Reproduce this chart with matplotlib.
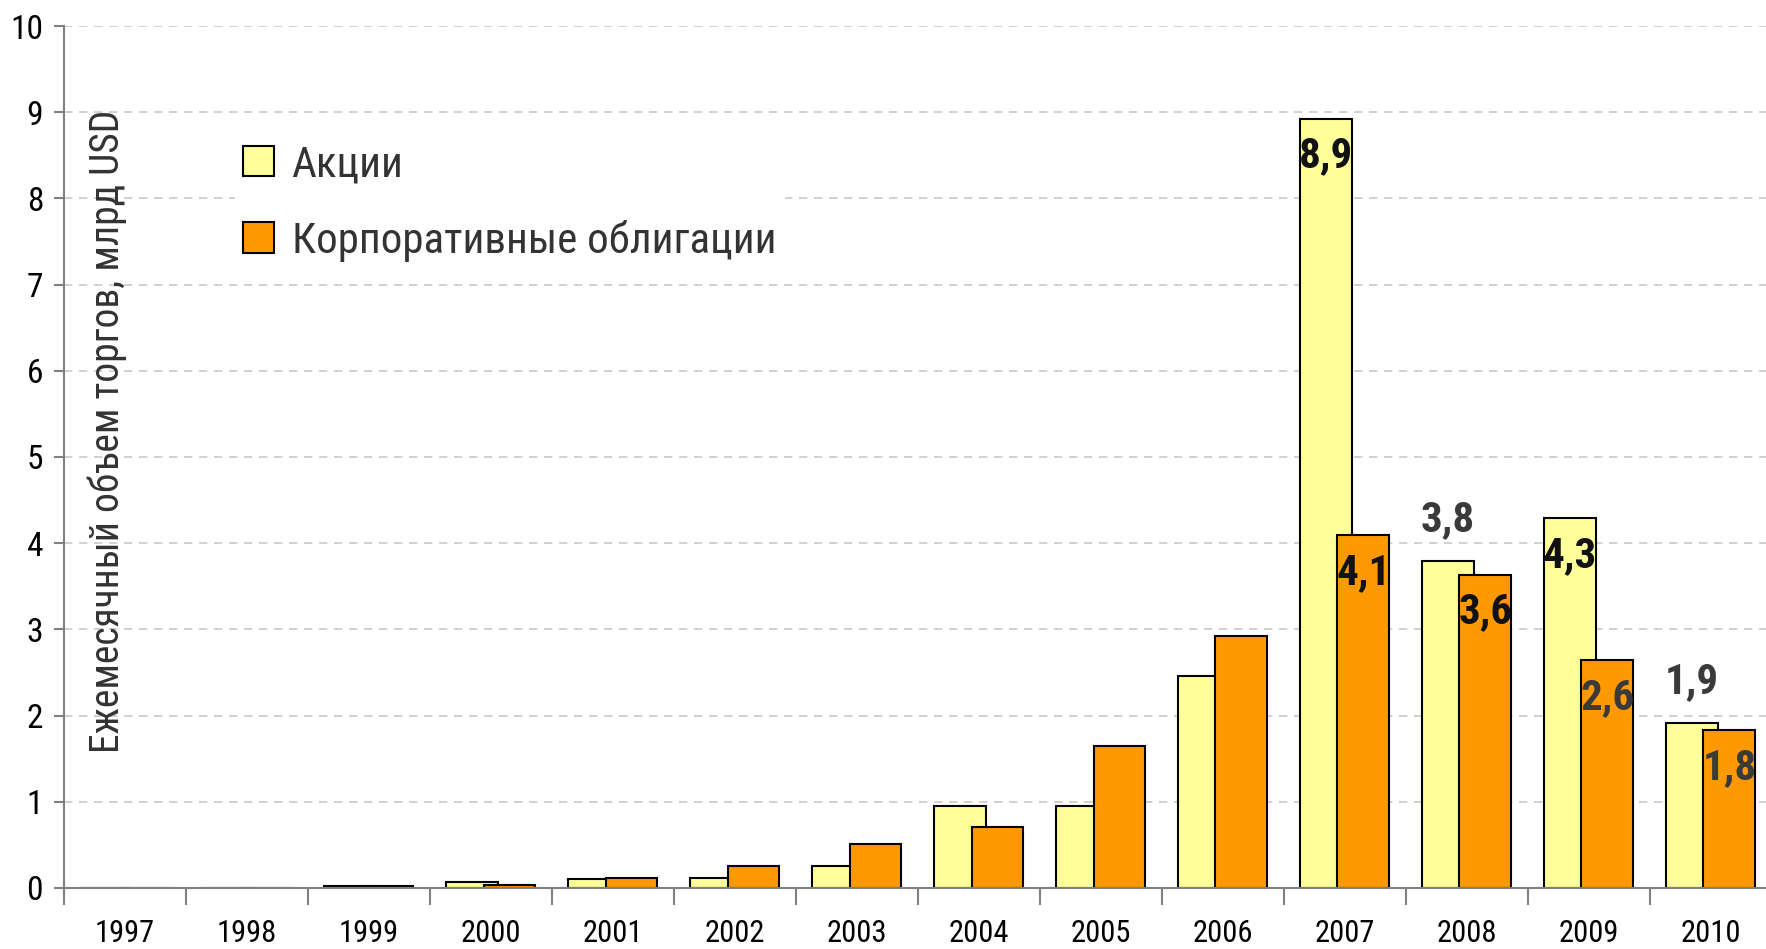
import numpy as np
import matplotlib
matplotlib.use('Agg')
import matplotlib.pyplot as plt
from matplotlib import font_manager
from matplotlib.ticker import FixedLocator

years = ['1997', '1998', '1999', '2000', '2001', '2002', '2003',
         '2004', '2005', '2006', '2007', '2008', '2009', '2010']
stocks = [0.0, 0.0, 0.02, 0.07, 0.10, 0.12, 0.25,
          0.95, 0.95, 2.46, 8.92, 3.79, 4.29, 1.91]
bonds = [0.0, 0.0, 0.02, 0.03, 0.12, 0.25, 0.51,
         0.71, 1.65, 2.92, 4.09, 3.63, 2.64, 1.83]
series_names = ['Акции', 'Корпоративные облигации']
ylabel = 'Ежемесячный объем торгов, млрд USD'

# value labels: (year index, series, text, placed inside bar?)
labels = [(10, 0, '8,9', True), (10, 1, '4,1', True),
          (11, 0, '3,8', False), (11, 1, '3,6', True),
          (12, 0, '4,3', True), (12, 1, '2,6', True),
          (13, 0, '1,9', False), (13, 1, '1,8', True)]
label_colors = ['#111111', '#111111', '#3a3a3a', '#111111',
                '#111111', '#3a3a3a', '#3a3a3a', '#3a3a3a']

# narrow font if there is one, else Roboto
installed = {f.name for f in font_manager.fontManager.ttflist}
narrow = [n for n in ['Roboto Condensed', 'Liberation Sans Narrow', 'Arial Narrow',
                      'Open Sans Condensed', 'Roboto'] if n in installed]
FONT = narrow[:1] + ['DejaVu Sans']
plt.rcParams['font.family'] = FONT

fig = plt.figure(figsize=(17.66, 9.49), dpi=100)
ax = fig.add_axes([0.0362, 0.0643, 0.967, 0.9083])

x = np.arange(len(years))
off = 0.153
w = 0.425
ax.bar(x - off, stocks, w, color='#FFFF99', edgecolor='black', linewidth=1.5,
       label=series_names[0], zorder=3)
ax.bar(x + off, bonds, w, color='#FF9900', edgecolor='black', linewidth=1.5,
       label=series_names[1], zorder=4)

for (i, s, txt, inside), col in zip(labels, label_colors):
    vals = stocks if s == 0 else bonds
    xx = i - off if s == 0 else i + off
    yy = vals[i] - 0.43 if inside else vals[i] + 0.48
    ax.text(xx, yy, txt, ha='center', va='center', fontsize=31,
            fontweight='bold', color=col, zorder=6)

ax.set_xlim(-0.5, len(years) - 0.5)
ax.set_ylim(0, 10)
ax.set_yticks(range(0, 11))
ax.yaxis.grid(True, linestyle=(0, (5, 4)), color='#c8c8c8', linewidth=1.2)
ax.set_axisbelow(True)

ax.xaxis.set_major_locator(FixedLocator(np.arange(-0.5, len(years), 1.0)))
ax.xaxis.set_minor_locator(FixedLocator(x))
ax.set_xticklabels([], minor=False)
ax.set_xticklabels(years, minor=True)
ax.tick_params(axis='x', which='major', length=12, width=1.5, color='#808080')
ax.tick_params(axis='x', which='minor', length=0, pad=22, labelsize=22)
ax.tick_params(axis='y', length=7, width=1.5, color='#808080', labelsize=24, pad=8)

for sp in ['top', 'right']:
    ax.spines[sp].set_visible(False)
for sp in ['left', 'bottom']:
    ax.spines[sp].set_color('#808080')
    ax.spines[sp].set_linewidth(1.5)
ax.spines['bottom'].set_zorder(5)

fig.text(0.0605, 0.545, ylabel, rotation=90, ha='center', va='center',
         fontsize=28.5, color='#333333')

leg = ax.legend(loc='upper left', bbox_to_anchor=(0.100, 0.873), frameon=True,
                fontsize=31, handlelength=0.72, handleheight=0.72,
                handletextpad=0.4, labelspacing=0.8, borderaxespad=0,
                borderpad=0.2)
leg.get_frame().set_edgecolor('none')
leg.get_frame().set_facecolor('white')
leg.get_frame().set_alpha(1.0)
for t in leg.get_texts():
    t.set_color('#333333')
leg.set_zorder(7)

fig.savefig('out.png', dpi=100)
